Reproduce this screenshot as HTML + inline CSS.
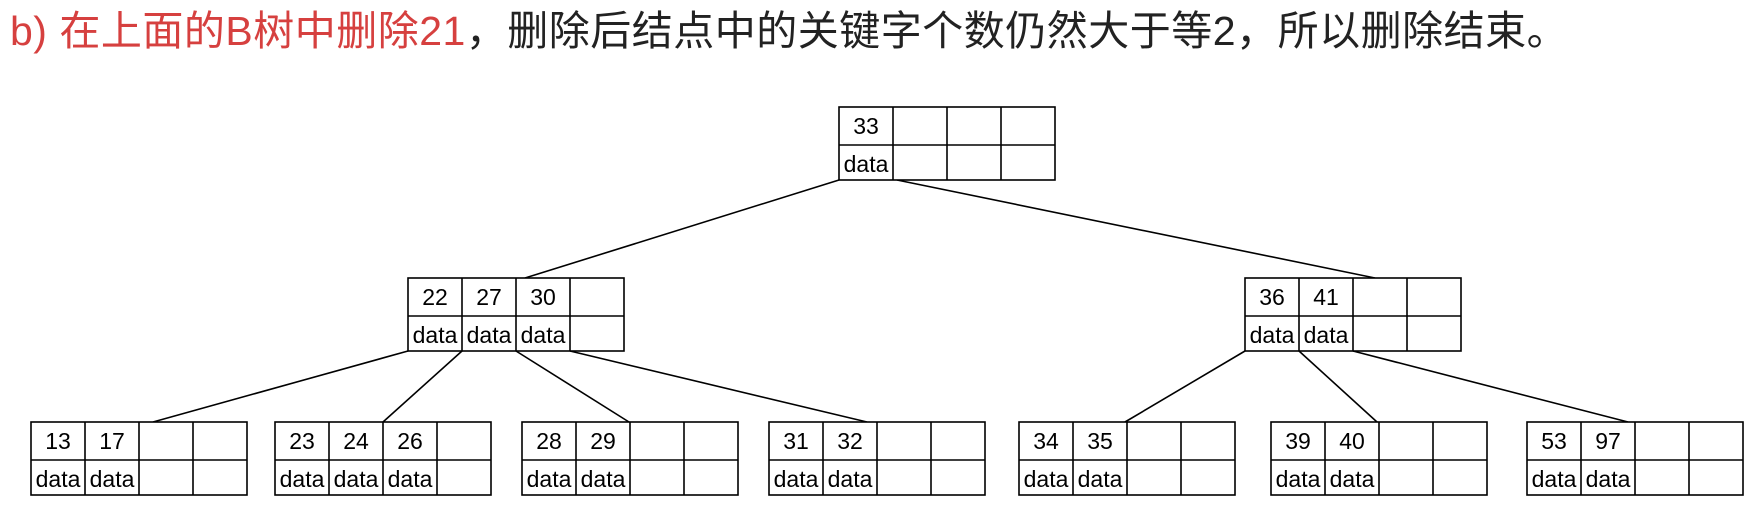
<!DOCTYPE html>
<html><head><meta charset="utf-8"><style>
html,body{margin:0;padding:0;background:#fff;width:1753px;height:505px;overflow:hidden}
svg{display:block}
text{font-family:"Liberation Sans","Noto Sans CJK SC",sans-serif}
.n{font-size:23px;text-anchor:middle;fill:#000}
</style></head><body>
<svg width="1753" height="505" viewBox="0 0 1753 505" xmlns="http://www.w3.org/2000/svg">
<text x="10" y="45" font-size="41" letter-spacing="0.5" fill="#d6403f" style="font-family:'Liberation Sans','Noto Sans CJK SC',sans-serif">b) 在上面的B树中删除21<tspan fill="#222">，删除后结点中的关键字个数仍然大于等2，所以删除结束。</tspan></text>
<g stroke="#000" stroke-width="1.6" fill="none">
<line x1="839" y1="180" x2="525" y2="278"/>
<line x1="897" y1="180" x2="1375" y2="278"/>
<line x1="408" y1="351" x2="153" y2="422"/>
<line x1="462" y1="351" x2="383" y2="422"/>
<line x1="516" y1="351" x2="629" y2="422"/>
<line x1="570" y1="351" x2="867" y2="422"/>
<line x1="1245" y1="351" x2="1125" y2="422"/>
<line x1="1299" y1="351" x2="1377" y2="422"/>
<line x1="1353" y1="351" x2="1628" y2="422"/>
</g>
<g id="nodes"></g>
</svg>
<script>
var nodes=[[839,107,["33"]],[408,278,["22","27","30"]],[1245,278,["36","41"]],
[31,422,["13","17"]],[275,422,["23","24","26"]],[522,422,["28","29"]],[769,422,["31","32"]],
[1019,422,["34","35"]],[1271,422,["39","40"]],[1527,422,["53","97"]]];
var g=document.getElementById('nodes'),s='';
nodes.forEach(function(n){var x=n[0],y=n[1],w=54;
s+='<rect x="'+x+'" y="'+y+'" width="216" height="73" fill="#fff" stroke="#000" stroke-width="1.6"/>';
s+='<line x1="'+x+'" y1="'+(y+38)+'" x2="'+(x+216)+'" y2="'+(y+38)+'" stroke="#000" stroke-width="1.6"/>';
for(var i=1;i<4;i++)s+='<line x1="'+(x+i*w)+'" y1="'+y+'" x2="'+(x+i*w)+'" y2="'+(y+73)+'" stroke="#000" stroke-width="1.6"/>';
n[2].forEach(function(k,i){var cx=x+i*w+w/2;
s+='<text class="n" x="'+cx+'" y="'+(y+27)+'">'+k+'</text>';
s+='<text class="n" x="'+cx+'" y="'+(y+65)+'">data</text>';});});
g.innerHTML=s;
</script>
</body></html>
